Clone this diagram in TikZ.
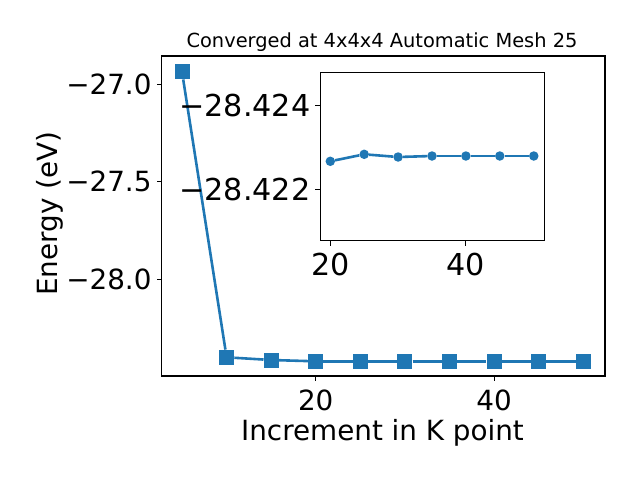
\documentclass[tikz,border=0pt]{standalone}
\usepackage{fontspec}
\setmainfont{DejaVu Sans}
\definecolor{plotblue}{HTML}{1F77B4}
\tikzset{
  spine/.style={line width=1.1pt},
  tickmark/.style={line width=1.1pt},
  dataline/.style={plotblue,line width=2.6pt},
  sqmark/.style={fill=plotblue,inner sep=0pt,minimum size=15pt},
  dotmark/.style={circle,fill=plotblue,inner sep=0pt,minimum size=9.5pt},
  mainticklabel/.style={font=\fontsize{27.8}{33}\selectfont,inner sep=0pt},
  insetticklabel/.style={font=\fontsize{30.2}{36}\selectfont,inner sep=0pt},
  axislabel/.style={font=\fontsize{27.8}{33}\selectfont,inner sep=0pt},
}
\begin{document}
\begin{tikzpicture}[x=1pt,y=-1pt]
\useasboundingbox (0,0) rectangle (640,480);
\node[font=\fontsize{19.4}{23}\selectfont,inner sep=0pt,anchor=base] (title) at (382,47.5) {Converged at 4x4x4 Automatic Mesh 25};

% main axes
\draw[spine] (161.5,56) rectangle (605,376);
\foreach \px/\lab in {315.7/20, 494.1/40} {
  \draw[tickmark] (\px,376) -- (\px,380.9);
  \node[mainticklabel,anchor=north] (xt\lab) at (\px,389.3) {\lab};
}
\foreach \py/\lab/\nm in {84.3/27.0/a, 181.8/27.5/b, 279.3/28.0/c} {
  \draw[tickmark] (161.5,\py) -- (156.6,\py);
  \node[mainticklabel,anchor=east] (yt\nm) at (151.7,\py) {−\lab};
}
\node[axislabel,anchor=base] (xlabel) at (382.5,440) {Increment in K point};
\node[axislabel,anchor=base,rotate=90] (ylabel) at (57.5,213.7) {Energy (eV)};

% main data
\foreach \k/\px/\py in {1/182/71.7, 2/226.6/357.3, 3/271.2/360, 4/315.7/361.3, 5/360.3/361.3,
  6/404.9/361.3, 7/449.5/361.3, 8/494.1/361.3, 9/538.7/361.3, 10/583.3/361.3}
  \node[sqmark] (m\k) at (\px,\py) {};
\foreach \k [remember=\k as \prev (initially 1)] in {2,...,10}
  \draw[dataline] (m\prev) -- (m\k);

% inset
\draw[spine,fill=white] (320.3,72.3) rectangle (544.3,240.7);
\foreach \px/\lab in {330.3/20, 465.9/40} {
  \draw[tickmark] (\px,240.7) -- (\px,245.6);
  \node[insetticklabel,anchor=north] (ixt\lab) at (\px,252.7) {\lab};
}
\foreach \py/\lab/\nm in {105.7/28.424/a, 189.3/28.422/b} {
  \draw[tickmark] (320.3,\py) -- (315.4,\py);
  \node[insetticklabel,anchor=east] (iyt\nm) at (310.5,\py) {−\lab};
}
\foreach \k/\px/\py in {1/330.3/161.3, 2/364.2/154.3, 3/398.1/157, 4/432.0/156,
  5/465.9/156, 6/499.8/156, 7/533.8/156}
  \node[dotmark] (i\k) at (\px,\py) {};
\foreach \k [remember=\k as \prev (initially 1)] in {2,...,7}
  \draw[dataline] (i\prev) -- (i\k);
\end{tikzpicture}
\end{document}
